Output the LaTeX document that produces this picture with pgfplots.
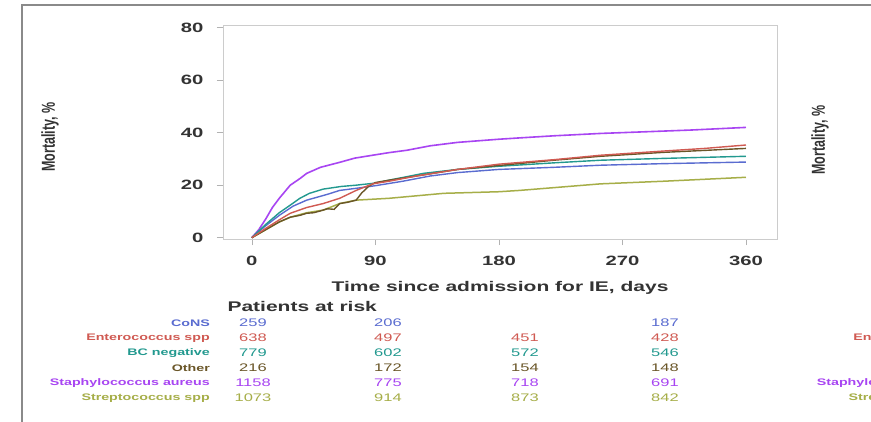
\documentclass[border=0pt]{standalone}
\usepackage{pgfplots}
\pgfplotsset{compat=1.18}
\usepackage{fontspec}
\setmainfont{Liberation Sans}[FakeStretch=1.5]
\newfontfamily\plainfont{Liberation Sans}
\definecolor{cons}{HTML}{5A6CD0}
\definecolor{ent}{HTML}{D05A52}
\definecolor{bcn}{HTML}{22998F}
\definecolor{oth}{HTML}{6A5628}
\definecolor{sta}{HTML}{A845F2}
\definecolor{str}{HTML}{A6AE48}
\definecolor{txt}{HTML}{333333}
\definecolor{frame}{HTML}{8A8A8A}

\pgfplotstableread{
d v
0 0
5 3
10 7
15 11.5
20 15
28 20
35 22.5
40 24.5
50 26.8
64 28.7
75 30.3
88 31.4
100 32.4
113 33.3
130 35
150 36.3
180 37.5
195 38
220 38.8
254 39.7
290 40.4
320 41
360 42
}\staph

\pgfplotstableread{
d v
0 0
10 5
20 9.5
28 12.4
35 15
42 16.9
52 18.5
65 19.5
76 20
90 20.8
100 21.9
125 24.5
150 26
180 27.2
220 28.5
254 29.5
300 30.2
330 30.6
360 31
}\bcneg

\pgfplotstableread{
d v
0 0
10 4.5
20 8.5
30 12
40 14.3
55 16.5
64 18
76 18.8
90 19.8
110 21.5
130 23.5
150 24.8
180 26
220 26.8
254 27.6
300 28.2
360 28.8
}\cons

\pgfplotstableread{
d v
0 0
10 3.5
20 6.8
28 9.3
40 11.5
52 13
64 15
76 18
88 20.5
100 21.5
120 23.5
150 26
180 28
220 29.7
254 31.4
300 33
330 34
360 35.3
}\entero

\pgfplotstableread{
d v
0 0
10 3
20 6
28 7.8
35 8.5
40 9.3
45 9.5
50 10.2
55 11
60 10.8
64 13
70 13.5
76 14.3
80 17
85 19.5
90 21
100 21.9
120 23.5
150 26
180 27.5
220 29.5
254 31
300 32.5
360 34
}\other

\pgfplotstableread{
d v
0 0
10 3
20 6
28 7.8
40 9.5
52 10.5
64 13
76 14.3
100 15
140 16.9
180 17.5
195 18
254 20.5
300 21.5
360 23
}\strep

\begin{document}
\begin{tikzpicture}
\useasboundingbox (0,0) rectangle (871pt,-422pt);
\clip (0,0) rectangle (871pt,-422pt);
\fill[white] (0,0) rectangle (871pt,-422pt);
\draw[frame, line width=2pt] (22pt,-422pt) -- (22pt,-5pt) -- (871pt,-5pt);

\begin{axis}[
  at={(223pt,-239pt)}, anchor=south west,
  scale only axis, width=554pt, height=214pt,
  xmin=-21, xmax=382.6, ymin=-0.5, ymax=81,
  xtick={0,90,180,270,360}, ytick={0,20,40,60,80},
  axis line style={draw=black!20},
  tick align=outside, major tick length=6pt,
  tick style={draw=black!30, line width=0.6pt},
  xtick pos=bottom, ytick pos=left,
  /pgf/number format/assume math mode=true,
  ticklabel style={font=\bfseries\fontsize{13.5}{13.5}\selectfont, text=txt},
  xticklabel style={yshift=-8pt},
  yticklabel style={xshift=-10pt},
  clip=false,
]
\addplot[sta, line width=1.6pt] table[x=d,y=v] {\staph};
\addplot[str, line width=1.5pt] table[x=d,y=v] {\strep};
\addplot[cons, line width=1.4pt] table[x=d,y=v] {\cons};
\addplot[bcn, line width=1.4pt] table[x=d,y=v] {\bcneg};
\addplot[oth, line width=1.4pt] table[x=d,y=v] {\other};
\addplot[ent, line width=1.4pt] table[x=d,y=v] {\entero};
\end{axis}

% y label (left) and cut-off right panel label
\node[rotate=90, text=txt] at (50pt,-137pt) {\scalebox{1}[1.5]{\plainfont\bfseries\fontsize{12.5}{12.5}\selectfont Mortality, \%}};
\node[rotate=90, text=txt] at (820pt,-140pt) {\scalebox{1}[1.5]{\plainfont\bfseries\fontsize{12.5}{12.5}\selectfont Mortality, \%}};

% x label
\node[text=txt, font=\bfseries\fontsize{14}{14}\selectfont] at (500pt,-288pt) {Time since admission for IE, days};
\node[text=txt, font=\bfseries\fontsize{14}{14}\selectfont, anchor=west] at (224pt,-306pt) {Patients at risk};

% risk table labels
\begin{scope}[every node/.style={anchor=east, font=\bfseries\fontsize{9.5}{9.5}\selectfont, inner sep=0pt}]
\node[text=cons] at (210pt,-323pt) {CoNS};
\node[text=ent] at (210pt,-338pt) {Enterococcus spp};
\node[text=bcn] at (210pt,-353pt) {BC negative};
\node[text=oth] at (210pt,-368pt) {Other};
\node[text=sta] at (210pt,-383pt) {Staphylococcus aureus};
\node[text=str] at (210pt,-398pt) {Streptococcus spp};
% right panel (cut off at the picture's edge, as in the reference)
\node[text=ent] at (977pt,-338pt) {Enterococcus spp};
\node[text=sta] at (977pt,-383pt) {Staphylococcus aureus};
\node[text=str] at (977pt,-398pt) {Streptococcus spp};
\end{scope}

% risk table numbers
\begin{scope}[every node/.style={font=\fontsize{11}{11}\selectfont, inner sep=0pt}]
\node[text=cons] at (253pt,-323pt) {259};
\node[text=cons] at (388pt,-323pt) {206};
\node[text=cons] at (665pt,-323pt) {187};
\node[text=ent] at (253pt,-338pt) {638};
\node[text=ent] at (388pt,-338pt) {497};
\node[text=ent] at (525pt,-338pt) {451};
\node[text=ent] at (665pt,-338pt) {428};
\node[text=bcn] at (253pt,-353pt) {779};
\node[text=bcn] at (388pt,-353pt) {602};
\node[text=bcn] at (525pt,-353pt) {572};
\node[text=bcn] at (665pt,-353pt) {546};
\node[text=oth] at (253pt,-368pt) {216};
\node[text=oth] at (388pt,-368pt) {172};
\node[text=oth] at (525pt,-368pt) {154};
\node[text=oth] at (665pt,-368pt) {148};
\node[text=sta] at (253pt,-383pt) {1158};
\node[text=sta] at (388pt,-383pt) {775};
\node[text=sta] at (525pt,-383pt) {718};
\node[text=sta] at (665pt,-383pt) {691};
\node[text=str] at (253pt,-398pt) {1073};
\node[text=str] at (388pt,-398pt) {914};
\node[text=str] at (525pt,-398pt) {873};
\node[text=str] at (665pt,-398pt) {842};
\end{scope}
\end{tikzpicture}
\end{document}
